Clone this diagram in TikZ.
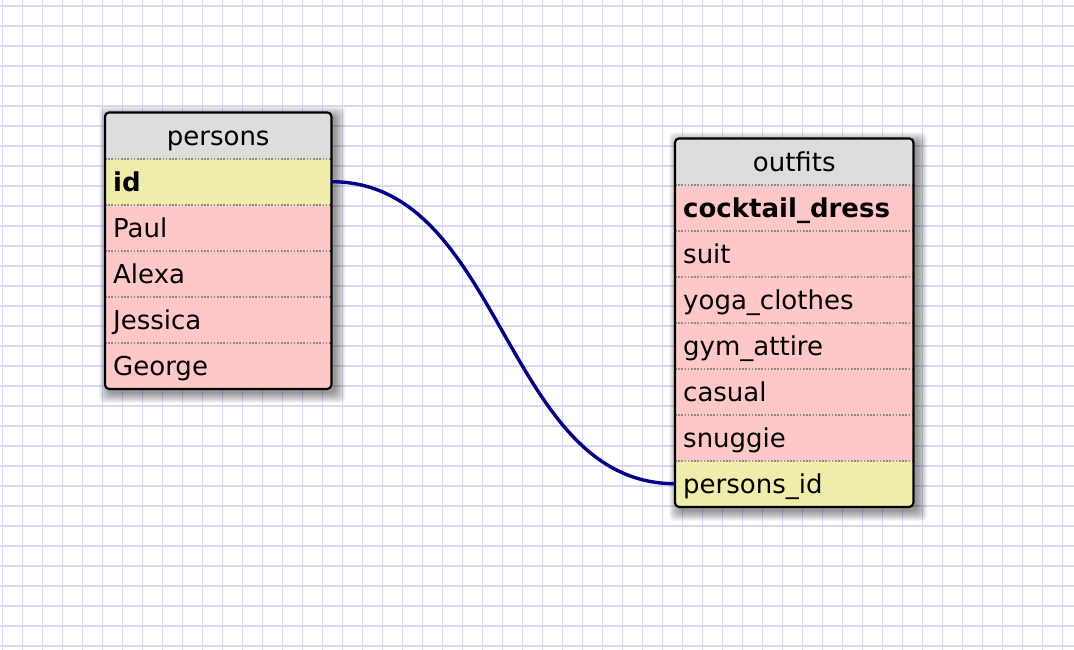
\documentclass[tikz,border=0pt]{standalone}
\usepackage{fontspec}
\setmainfont{DejaVu Sans}
\definecolor{gridc}{HTML}{D8D8F4}
\definecolor{titlec}{HTML}{DDDDDD}
\definecolor{rowc}{HTML}{FFC8C8}
\definecolor{keyc}{HTML}{EEEEAA}
\definecolor{relc}{HTML}{000088}
\definecolor{sepc}{HTML}{8A8A8A}
\begin{document}
\begin{tikzpicture}[x=1pt,y=-1pt,
  font=\fontsize{26}{30}\selectfont,
  gridline/.style={gridc, line width=1.5pt},
  tablebox/.style={rectangle, fill=rowc, inner sep=0pt, anchor=north west},
  shadowlayer/.style={black, opacity=0.045, rounded corners=5pt},
  tableframe/.style={draw=black, line width=2.2pt, rounded corners=4pt},
  cell/.style={rectangle, anchor=north west, inner xsep=8pt, inner ysep=0pt,
    minimum height=46pt, text height=23pt, text depth=3pt, align=left},
  titlecell/.style={cell, fill=titlec, align=center},
  keycell/.style={cell, fill=keyc},
  rowcell/.style={cell, fill=rowc},
  sepline/.style={sepc, line width=1.6pt, dash pattern=on 1.6pt off 1.6pt},
  relation/.style={relc, line width=3.4pt}
]
\useasboundingbox (0,0) rectangle (1074,650);
\fill[white] (0,0) rectangle (1074,650);
% grid
\foreach \k in {0,...,53} \draw[gridline] ({2.7+20*\k},0) -- ({2.7+20*\k},650);
\foreach \k in {0,...,32} \draw[gridline] (0,{6+20*\k}) -- (1074,{6+20*\k});

% ---------- persons table ----------
\node[tablebox, minimum width=226pt, minimum height=276pt] (persons) at (105,112.5) {};
\foreach \i in {0,...,10}
  \fill[shadowlayer] ([shift={({4-\i},{4-\i})}]persons.north west) rectangle ([shift={({4+\i},{4+\i})}]persons.south east);
\node[tablebox, minimum width=226pt, minimum height=276pt] at (105,112.5) {};
\begin{scope}
  \clip[rounded corners=4pt] (persons.north west) rectangle (persons.south east);
  \node[titlecell, text width=210pt] (p-title) at (105,112.5) {persons};
  \node[keycell, text width=210pt] (p-id) at (105,158.5) {\textbf{id}};
  \node[rowcell, text width=210pt] (p-paul) at (105,204.5) {Paul};
  \node[rowcell, text width=210pt] (p-alexa) at (105,250.5) {Alexa};
  \node[rowcell, text width=210pt] (p-jessica) at (105,296.5) {Jessica};
  \node[rowcell, text width=210pt] (p-george) at (105,342.5) {George};
\end{scope}
\foreach \r in {p-title,p-id,p-paul,p-alexa,p-jessica}
  \draw[sepline] (\r.south west) -- (\r.south east);
\draw[tableframe] (persons.north west) rectangle (persons.south east);

% ---------- outfits table ----------
\node[tablebox, minimum width=238pt, minimum height=368pt] (outfits) at (675,138.5) {};
\foreach \i in {0,...,10}
  \fill[shadowlayer] ([shift={({4-\i},{4-\i})}]outfits.north west) rectangle ([shift={({4+\i},{4+\i})}]outfits.south east);
\node[tablebox, minimum width=238pt, minimum height=368pt] at (675,138.5) {};
\begin{scope}
  \clip[rounded corners=4pt] (outfits.north west) rectangle (outfits.south east);
  \node[titlecell, text width=222pt] (o-title) at (675,138.5) {outfits};
  \node[rowcell, text width=222pt] (o-cocktail) at (675,184.5) {\textbf{cocktail\_dress}};
  \node[rowcell, text width=222pt] (o-suit) at (675,230.5) {suit};
  \node[rowcell, text width=222pt] (o-yoga) at (675,276.5) {yoga\_clothes};
  \node[rowcell, text width=222pt] (o-gym) at (675,322.5) {gym\_attire};
  \node[rowcell, text width=222pt] (o-casual) at (675,368.5) {casual};
  \node[rowcell, text width=222pt] (o-snuggie) at (675,414.5) {snuggie};
  \node[keycell, text width=222pt] (o-pid) at (675,460.5) {persons\_id};
\end{scope}
\foreach \r in {o-title,o-cocktail,o-suit,o-yoga,o-gym,o-casual,o-snuggie}
  \draw[sepline] (\r.south west) -- (\r.south east);
\draw[tableframe] (outfits.north west) rectangle (outfits.south east);

% ---------- relation ----------
\draw[relation] (p-id.east) .. controls +(172,0) and +(-172,0) .. (o-pid.west);
\end{tikzpicture}
\end{document}
